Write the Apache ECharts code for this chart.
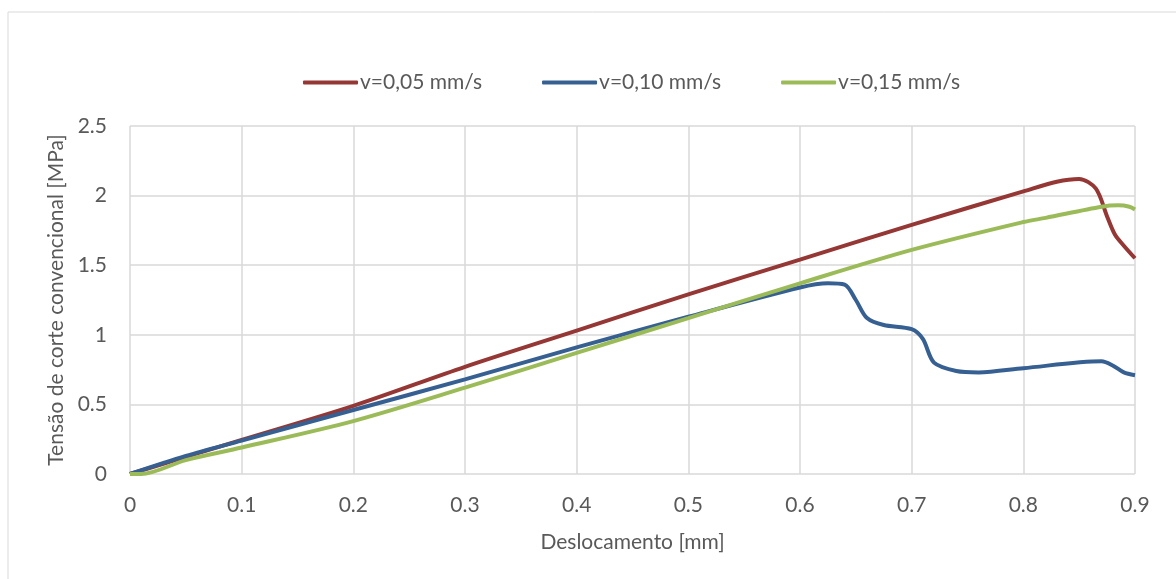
<!DOCTYPE html>
<html>
<head>
<meta charset="utf-8">
<script src="https://cdn.jsdelivr.net/npm/echarts@6/dist/echarts.min.js"></script>
<style>
  html, body { margin: 0; padding: 0; background: #fff; }
  #chart { width: 1176px; height: 579px; }
</style>
</head>
<body>
<div id="chart"></div>
<script>
// series names
var seriesNames = ['v=0,05 mm/s', 'v=0,10 mm/s', 'v=0,15 mm/s'];

// deslocamento [mm] / tensao [MPa]
var redX = [0, 0.1, 0.2, 0.3, 0.4, 0.5, 0.6, 0.7, 0.8, 0.83, 0.85, 0.865, 0.875, 0.882, 0.89, 0.9];
var redY = [0, 0.245, 0.49, 0.77, 1.03, 1.29, 1.54, 1.79, 2.03, 2.10, 2.12, 2.05, 1.85, 1.72, 1.64, 1.55];

var blueX = [0, 0.05, 0.1, 0.2, 0.3, 0.4, 0.5, 0.6, 0.625, 0.64, 0.65, 0.66, 0.675, 0.7, 0.71, 0.72, 0.74, 0.76, 0.8, 0.87, 0.88, 0.89, 0.9];
var blueY = [0, 0.13, 0.24, 0.46, 0.68, 0.91, 1.13, 1.34, 1.37, 1.36, 1.25, 1.12, 1.07, 1.04, 0.97, 0.8, 0.74, 0.73, 0.76, 0.81, 0.78, 0.73, 0.71];

var greenX = [0, 0.01, 0.05, 0.1, 0.2, 0.3, 0.4, 0.5, 0.6, 0.7, 0.8, 0.82, 0.87, 0.885, 0.895, 0.9];
var greenY = [0, 0, 0.1, 0.19, 0.38, 0.62, 0.87, 1.12, 1.37, 1.61, 1.81, 1.84, 1.92, 1.93, 1.92, 1.90];

function pairs(xs, ys) {
	var out = [];
	for (var i = 0; i < xs.length; i++) out.push([xs[i], ys[i]]);
	return out;
}

var txt = '#595959';
var font = 'Lato, "Open Sans", sans-serif';
var fs = 21;

var chart = echarts.init(document.getElementById('chart'), null, { renderer: 'canvas' });
var option = {
	animation: false,
	textStyle: { fontFamily: font },
	graphic: [{
		type: 'rect',
		shape: { x: 8, y: 12, width: 1170, height: 580 },
		style: { fill: 'none', stroke: '#d9d9d9', lineWidth: 1 },
		silent: true
	}],
	legend: {
		top: 67,
		left: 298,
		itemWidth: 55,
		itemHeight: 4,
		itemGap: 60,
		icon: 'roundRect',
		textStyle: { color: txt, fontSize: fs, fontFamily: font, padding: [0, 0, 0, -3] },
		data: seriesNames
	},
	grid: { left: 130, right: 41, top: 126, bottom: 105 },
	xAxis: {
		type: 'value',
		min: 0, max: 0.9, interval: 0.1,
		name: 'Deslocamento [mm]',
		nameLocation: 'middle',
		nameGap: 58,
		nameTextStyle: { color: txt, fontSize: fs },
		axisLine: { show: false },
		axisTick: { show: false },
		axisLabel: { color: txt, fontSize: fs, margin: 21 },
		splitLine: { show: true, lineStyle: { color: '#d9d9d9', width: 1.5 } }
	},
	yAxis: {
		type: 'value',
		min: 0, max: 2.5, interval: 0.5,
		name: 'Tensão de corte convencional [MPa]',
		nameLocation: 'middle',
		nameGap: 63,
		nameTextStyle: { color: txt, fontSize: fs },
		axisLine: { show: false },
		axisTick: { show: false },
		axisLabel: { color: txt, fontSize: fs, margin: 23, formatter: function (v) { return String(v); } },
		splitLine: { show: true, lineStyle: { color: '#d9d9d9', width: 1.5 } }
	},
	series: [
		{
			name: seriesNames[0], type: 'line', smooth: 0.3, showSymbol: false,
			lineStyle: { width: 4, color: '#953735' }, itemStyle: { color: '#953735' },
			data: pairs(redX, redY)
		},
		{
			name: seriesNames[1], type: 'line', smooth: 0.3, showSymbol: false,
			lineStyle: { width: 4, color: '#376092' }, itemStyle: { color: '#376092' },
			data: pairs(blueX, blueY)
		},
		{
			name: seriesNames[2], type: 'line', smooth: 0.3, showSymbol: false,
			lineStyle: { width: 4, color: '#9bbb59' }, itemStyle: { color: '#9bbb59' },
			data: pairs(greenX, greenY)
		}
	]
};
chart.setOption(option);
</script>
</body>
</html>
